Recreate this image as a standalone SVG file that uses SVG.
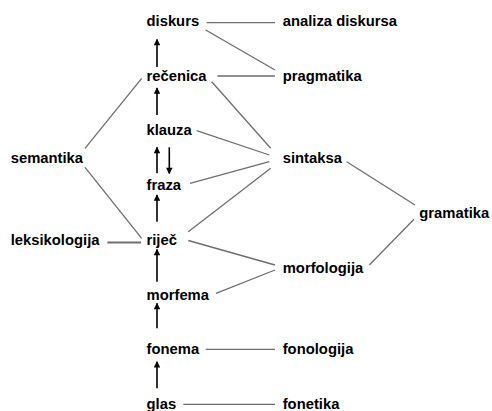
<svg xmlns="http://www.w3.org/2000/svg" width="492" height="411" viewBox="0 0 492 411">
<defs>
<style>
text{font-family:"Liberation Sans",Arial,sans-serif;font-size:14.8px;font-weight:bold;fill:#000}
.l{stroke:#6e6e6e;stroke-width:1.3;fill:none}
.a{stroke:#000;stroke-width:1.6;fill:none;marker-end:url(#ah)}
</style>
<marker id="ah" viewBox="0 0 10 10" refX="9" refY="5" markerUnits="userSpaceOnUse" markerWidth="8" markerHeight="6.5" orient="auto">
<path d="M0,0 L10,5 L0,10 z" fill="#000"/>
</marker>
</defs>
<rect width="492" height="411" fill="#fff"/>
<g id="connectors">
<line class="l" x1="206.5" y1="22.7" x2="275" y2="22.7"/>
<line class="l" x1="205.7" y1="30" x2="275" y2="70"/>
<line class="l" x1="217.3" y1="76" x2="275" y2="76"/>
<line class="l" x1="211.7" y1="81.7" x2="270.7" y2="148.3"/>
<line class="l" x1="196.7" y1="130.7" x2="269.3" y2="155"/>
<line class="l" x1="190" y1="183.3" x2="269.3" y2="161.7"/>
<line class="l" x1="188.3" y1="231.7" x2="270.7" y2="168.3"/>
<line class="l" x1="188.3" y1="240.5" x2="275" y2="265"/>
<line class="l" x1="216" y1="293.3" x2="275" y2="270"/>
<line class="l" x1="346.7" y1="161.7" x2="415" y2="205"/>
<line class="l" x1="369.3" y1="265" x2="414" y2="219.3"/>
<line class="l" x1="85" y1="148.3" x2="141.7" y2="78.3"/>
<line class="l" x1="85" y1="167.3" x2="141.7" y2="238.3"/>
<line class="l" x1="107.3" y1="242.5" x2="141" y2="242.5" style="stroke-width:1.8"/>
<line class="l" x1="205.7" y1="349.3" x2="275" y2="349.3"/>
<line class="l" x1="183.3" y1="404.3" x2="275" y2="404.3"/>
<line class="a" x1="157" y1="67" x2="157" y2="39.5"/>
<line class="a" x1="157" y1="115" x2="157" y2="88"/>
<line class="a" x1="157" y1="173.3" x2="157" y2="147.3"/>
<line class="a" x1="169.3" y1="147.3" x2="169.3" y2="173.5"/>
<line class="a" x1="157" y1="221.7" x2="157" y2="195"/>
<line class="a" x1="157" y1="281.7" x2="157" y2="249.5"/>
<line class="a" x1="157" y1="328.3" x2="157" y2="303.3"/>
<line class="a" x1="157" y1="388.3" x2="157" y2="361.7"/>
</g>
<g id="diskurs"><text x="146.5" y="25.5">diskurs</text></g>
<g id="recenica"><text x="146.5" y="80.5">rečenica</text></g>
<g id="klauza"><text x="146.5" y="135">klauza</text></g>
<g id="fraza"><text x="146.5" y="190">fraza</text></g>
<g id="rijec"><text x="146.5" y="245">riječ</text></g>
<g id="morfema"><text x="146.5" y="299.5">morfema</text></g>
<g id="fonema"><text x="146.5" y="354">fonema</text></g>
<g id="glas"><text x="146.5" y="408.5">glas</text></g>
<g id="analiza-diskursa"><text x="282.7" y="25.5">analiza diskursa</text></g>
<g id="pragmatika"><text x="282.7" y="80.5">pragmatika</text></g>
<g id="sintaksa"><text x="282.7" y="162.5">sintaksa</text></g>
<g id="morfologija"><text x="282.7" y="272.5">morfologija</text></g>
<g id="fonologija"><text x="282.7" y="354">fonologija</text></g>
<g id="fonetika"><text x="282.7" y="408.5">fonetika</text></g>
<g id="gramatika"><text x="419.3" y="217.5">gramatika</text></g>
<g id="semantika"><text x="10.7" y="162.5">semantika</text></g>
<g id="leksikologija"><text x="10.7" y="245">leksikologija</text></g>
</svg>
